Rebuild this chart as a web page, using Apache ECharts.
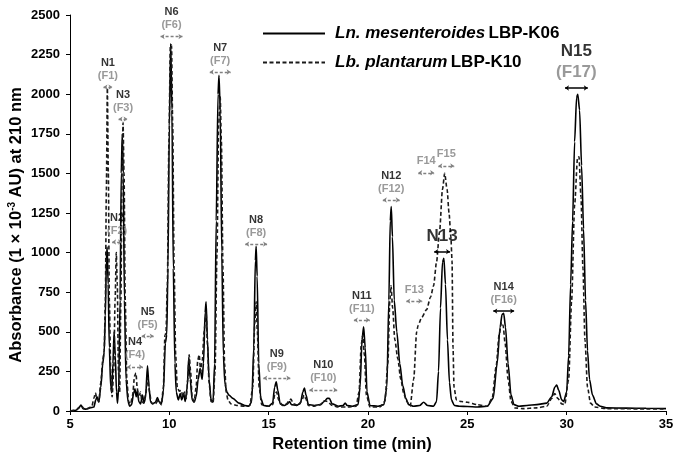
<!DOCTYPE html>
<html>
<head>
<meta charset="utf-8">
<script src="https://cdn.jsdelivr.net/npm/echarts@6/dist/echarts.min.js"></script>
<style>
  html, body { margin: 0; padding: 0; background: #fff; }
  #chart { width: 680px; height: 461px; }
</style>
</head>
<body>
<div id="chart"></div>
<script>
// 色谱数据 [保留时间 min, 吸光度 1e-3 AU]
const k06 = [
  [5.0,0],[5.3,5],[5.45,20],[5.55,38],[5.65,15],[5.8,12],[6.0,20],[6.2,25],[6.3,70],[6.36,90],[6.45,55],
  [6.55,150],[6.65,300],[6.72,370],[6.78,600],[6.83,950],[6.87,1035],[6.92,800],[6.98,400],[7.05,150],
  [7.1,115],[7.16,300],[7.22,500],[7.28,350],[7.34,120],[7.39,50],[7.45,150],[7.52,700],[7.58,1500],
  [7.63,1750],[7.68,1500],[7.74,700],[7.82,200],[7.92,60],[8.0,30],[8.1,40],[8.2,110],[8.27,140],[8.33,90],
  [8.4,130],[8.46,60],[8.55,45],[8.65,100],[8.72,50],[8.8,80],[8.9,286],[8.98,150],[9.05,60],[9.15,45],
  [9.3,55],[9.4,85],[9.5,55],[9.6,45],[9.7,120],[9.8,430],[9.87,480],[9.93,900],[10.0,1800],[10.07,2320],
  [10.13,1900],[10.2,900],[10.28,300],[10.35,120],[10.45,70],[10.55,110],[10.62,70],[10.72,110],[10.8,60],
  [10.9,150],[10.98,340],[11.05,200],[11.15,70],[11.25,55],[11.35,90],[11.45,200],[11.55,270],[11.65,200],
  [11.72,300],[11.8,620],[11.85,690],[11.92,450],[12.0,200],[12.1,70],[12.2,55],[12.28,300],[12.36,1200],
  [12.45,2000],[12.5,2120],[12.56,1900],[12.64,1000],[12.72,350],[12.8,170],[12.9,120],[13.0,100],[13.2,80],
  [13.5,50],[13.8,35],[14.0,30],[14.15,60],[14.25,400],[14.33,950],[14.37,1040],[14.42,850],[14.5,300],
  [14.6,80],[14.75,35],[15.0,30],[15.2,50],[15.3,150],[15.38,185],[15.46,130],[15.58,45],[15.8,35],
  [15.95,45],[16.05,60],[16.15,40],[16.4,35],[16.6,50],[16.72,120],[16.8,145],[16.88,100],[17.0,40],
  [17.3,35],[17.6,40],[17.8,60],[17.95,80],[18.05,80],[18.2,45],[18.5,30],[18.75,35],[18.85,50],[18.95,35],
  [19.2,30],[19.5,40],[19.6,150],[19.7,450],[19.78,532],[19.86,400],[19.95,120],[20.1,35],[20.5,30],
  [20.8,40],[20.95,150],[21.05,700],[21.12,1200],[21.17,1290],[21.23,1100],[21.32,700],[21.45,500],
  [21.6,300],[21.75,160],[21.9,80],[22.05,40],[22.3,30],[22.6,35],[22.8,55],[23.0,35],[23.3,30],[23.45,60],
  [23.55,250],[23.65,650],[23.75,940],[23.82,964],[23.9,800],[24.0,450],[24.1,180],[24.2,70],[24.35,35],
  [24.6,30],[25.0,28],[25.5,25],[26.0,30],[26.3,80],[26.5,300],[26.65,530],[26.75,610],[26.83,617],
  [26.92,530],[27.05,300],[27.2,100],[27.35,40],[27.6,30],[28.0,35],[28.5,40],[29.0,50],[29.25,90],
  [29.4,150],[29.5,164],[29.6,130],[29.75,70],[29.85,60],[30.0,120],[30.1,350],[30.2,800],[30.3,1200],
  [30.4,1700],[30.5,1980],[30.56,2000],[30.65,1900],[30.75,1550],[30.85,1150],[30.95,700],[31.05,380],
  [31.15,200],[31.3,100],[31.5,45],[31.7,30],[32.0,20],[33.0,18],[34.0,17],[35.0,15]
];
const k10 = [
  [5.0,0],[5.3,5],[5.5,25],[5.6,30],[5.7,15],[5.9,15],[6.1,30],[6.2,80],[6.28,115],[6.35,80],[6.45,60],
  [6.55,180],[6.65,320],[6.72,380],[6.78,700],[6.83,1400],[6.88,2040],[6.93,1500],[6.98,700],[7.05,250],
  [7.12,90],[7.2,250],[7.27,700],[7.33,1000],[7.38,800],[7.44,250],[7.5,120],[7.56,700],[7.62,1500],
  [7.67,1820],[7.72,1500],[7.78,700],[7.86,200],[7.95,60],[8.05,45],[8.15,100],[8.25,220],[8.32,240],
  [8.38,150],[8.45,80],[8.55,120],[8.62,60],[8.7,50],[8.8,100],[8.92,210],[9.0,120],[9.1,50],[9.3,45],
  [9.45,70],[9.6,40],[9.7,150],[9.78,480],[9.83,490],[9.9,800],[9.98,1700],[10.05,2300],[10.11,2310],
  [10.17,1800],[10.24,900],[10.32,350],[10.4,150],[10.5,125],[10.6,130],[10.68,90],[10.76,120],[10.85,80],
  [10.93,200],[11.0,355],[11.07,250],[11.15,80],[11.25,60],[11.35,150],[11.43,320],[11.5,355],[11.58,250],
  [11.66,320],[11.75,500],[11.85,627],[11.92,420],[12.0,180],[12.1,60],[12.2,50],[12.3,250],[12.4,1000],
  [12.48,1800],[12.56,1985],[12.62,1700],[12.7,900],[12.78,300],[12.86,120],[12.95,70],[13.1,45],[13.4,35],
  [13.8,30],[14.05,35],[14.2,150],[14.3,550],[14.37,690],[14.43,500],[14.52,150],[14.65,40],[15.0,30],
  [15.2,40],[15.32,110],[15.4,120],[15.5,70],[15.7,35],[15.9,45],[16.05,70],[16.12,75],[16.25,45],
  [16.5,35],[16.68,70],[16.78,100],[16.86,80],[17.0,35],[17.3,30],[17.6,40],[17.8,65],[17.95,60],
  [18.2,35],[18.5,25],[19.0,25],[19.4,30],[19.55,120],[19.66,420],[19.74,480],[19.82,350],[19.92,100],
  [20.1,25],[20.6,25],[20.85,60],[21.0,300],[21.1,700],[21.16,790],[21.24,650],[21.35,450],[21.5,330],
  [21.65,200],[21.8,110],[21.95,60],[22.12,30],[22.3,200],[22.45,500],[22.52,540],[22.7,590],[22.95,640],
  [23.15,720],[23.3,790],[23.45,940],[23.6,1130],[23.75,1400],[23.86,1500],[23.98,1400],[24.08,1250],
  [24.17,1100],[24.23,950],[24.28,400],[24.33,150],[24.45,70],[24.7,60],[25.0,55],[25.5,40],[26.0,30],
  [26.25,80],[26.45,280],[26.6,480],[26.72,560],[26.8,540],[26.9,430],[27.05,200],[27.2,60],[27.4,20],
  [27.8,15],[28.5,20],[29.0,30],[29.25,80],[29.4,110],[29.55,80],[29.75,45],[29.9,40],[30.1,200],
  [30.25,700],[30.4,1300],[30.55,1600],[30.62,1605],[30.72,1350],[30.82,900],[30.92,450],[31.05,150],
  [31.2,50],[31.4,25],[32.0,15],[33.0,14],[34.0,13],[35.0,12]
];

// 峰标注：名称、馏分、保留时间窗口中心、高度、窗口宽度(min)
const annoTop = ['N1','N2','N3','N4','N5','N6','N7','N8','N9','N10','N11','N12','','','','N13','N14','N15'];
const annoSub = ['(F1)','(F2)','(F3)','(F4)','(F5)','(F6)','(F7)','(F8)','(F9)','(F10)','(F11)','(F12)','F13','F14','F15','','(F16)','(F17)'];
const annoT = [6.91,7.37,7.67,8.27,8.91,10.11,12.56,14.37,15.41,17.75,19.69,21.17,22.33,22.93,23.94,23.73,26.83,30.49];
const annoV = [2045,1067,1843,278,473,2364,2140,1054,208,133,574,1332,694,1504,1547,1006,631,2039];
const annoW = [0.45,0.5,0.45,0.8,0.6,1.1,1.05,1.1,1.36,1.4,0.8,0.85,0.8,0.8,0.8,0.8,1.05,1.15];

const xTicks = [5, 35, 5];      // min, max, interval
const yTicks = [0, 2500, 250];

const names = ['Ln. mesenteroides LBP-K06', 'Lb. plantarum LBP-K10'];

const FONT = 'Liberation Sans, Arial, sans-serif';
const GRAY = '#808080';
const bigOnes = ['N13', 'N15'];
const blackArrows = [15, 16, 17];

const chart = echarts.init(document.getElementById('chart'));

const labelData = annoT.map((t, i) => {
  const top = annoTop[i], sub = annoSub[i];
  const big = bigOnes.includes(top);
  let txt;
  if (big) txt = sub ? `{N|${top}}\n{F|${sub}}` : `{N|${top}}`;
  else txt = top ? `{n|${top}}\n{f|${sub}}` : `{f|${sub}}`;
  return { value: [t, annoV[i]], label: { formatter: txt } };
});

const arrowData = annoT.map((t, i) => {
  const black = blackArrows.includes(i);
  return [
    { coord: [t - annoW[i] / 2, annoV[i]],
      lineStyle: { color: black ? '#000' : GRAY, type: black ? 'solid' : [3, 2], width: black ? 1.5 : 1.3 } },
    { coord: [t + annoW[i] / 2, annoV[i]] }
  ];
});

chart.setOption({
  animation: false,
  grid: { left: 70, right: 14, top: 15, bottom: 50 },
  legend: {
    orient: 'vertical',
    left: 257, top: 20,
    itemWidth: 62, itemHeight: 14, itemGap: 12,
    data: names,
    itemStyle: { opacity: 0 },
    formatter: n => {
      const p = n.split(' ');
      return `{i|${p[0]} ${p[1]}} {b|${p[2]}}`;
    },
    textStyle: {
      padding: [0, 0, 0, 5],
      rich: {
        i: { fontFamily: FONT, fontSize: 17, fontStyle: 'italic', fontWeight: 'bold', color: '#000' },
        b: { fontFamily: FONT, fontSize: 17, fontWeight: 'bold', color: '#000' }
      }
    }
  },
  xAxis: {
    type: 'value', min: xTicks[0], max: xTicks[1], interval: xTicks[2],
    axisLine: { show: true, lineStyle: { color: '#000', width: 1 } },
    axisTick: { show: true, length: 4, lineStyle: { color: '#000' } },
    axisLabel: { fontFamily: FONT, fontSize: 13, fontWeight: 'bold', color: '#000', margin: 7 },
    splitLine: { show: false }
  },
  yAxis: {
    type: 'value', min: yTicks[0], max: yTicks[1], interval: yTicks[2],
    axisLine: { show: true, lineStyle: { color: '#000', width: 1 } },
    axisTick: { show: true, length: 4, lineStyle: { color: '#000' } },
    axisLabel: { fontFamily: FONT, fontSize: 13, fontWeight: 'bold', color: '#000', margin: 10, formatter: v => String(v) },
    splitLine: { show: false }
  },
  graphic: [
    { type: 'text', x: 352, y: 444, style: { text: 'Retention time (min)', fontFamily: FONT, fontSize: 16.5, fontWeight: 'bold', fill: '#000', align: 'center', verticalAlign: 'middle' } },
    { type: 'text', x: 16, y: 225, rotation: Math.PI / 2,
      style: {
        text: '{a|Absorbance (1 × 10}{s|-3}{a| AU) at 210 nm}',
        align: 'center', verticalAlign: 'middle',
        rich: {
          a: { fontFamily: FONT, fontSize: 16.5, fontWeight: 'bold', fill: '#000' },
          s: { fontFamily: FONT, fontSize: 10, fontWeight: 'bold', fill: '#000', padding: [0, 0, 8, 0] }
        }
      }
    }
  ],
  series: [
    {
      name: names[0], type: 'line', data: k06, symbol: 'none', smooth: 0.25, smoothMonotone: 'x',
      lineStyle: { color: '#000', width: 1.6, type: 'solid' }, itemStyle: { color: '#000' }, z: 3
    },
    {
      name: names[1], type: 'line', data: k10, symbol: 'none', smooth: 0.25, smoothMonotone: 'x',
      lineStyle: { color: '#1a1a1a', width: 1.6, type: [4, 2.5] }, itemStyle: { color: '#1a1a1a' }, z: 4
    },
    {
      type: 'scatter', data: labelData, symbolSize: 0, silent: true, z: 10,
      label: {
        show: true, position: 'top', distance: 5,
        rich: {
          n: { fontFamily: FONT, fontSize: 11, fontWeight: 'bold', color: '#000', lineHeight: 13, align: 'center' },
          f: { fontFamily: FONT, fontSize: 11, fontWeight: 'bold', color: GRAY, lineHeight: 13, align: 'center' },
          N: { fontFamily: FONT, fontSize: 17, fontWeight: 'bold', color: '#000', lineHeight: 21, align: 'center' },
          F: { fontFamily: FONT, fontSize: 17, fontWeight: 'bold', color: GRAY, lineHeight: 21, align: 'center' }
        }
      },
      markLine: {
        silent: true, symbol: ['arrow', 'arrow'], symbolSize: [4, 4],
        label: { show: false },
        data: arrowData
      }
    }
  ]
});
</script>
</body>
</html>
